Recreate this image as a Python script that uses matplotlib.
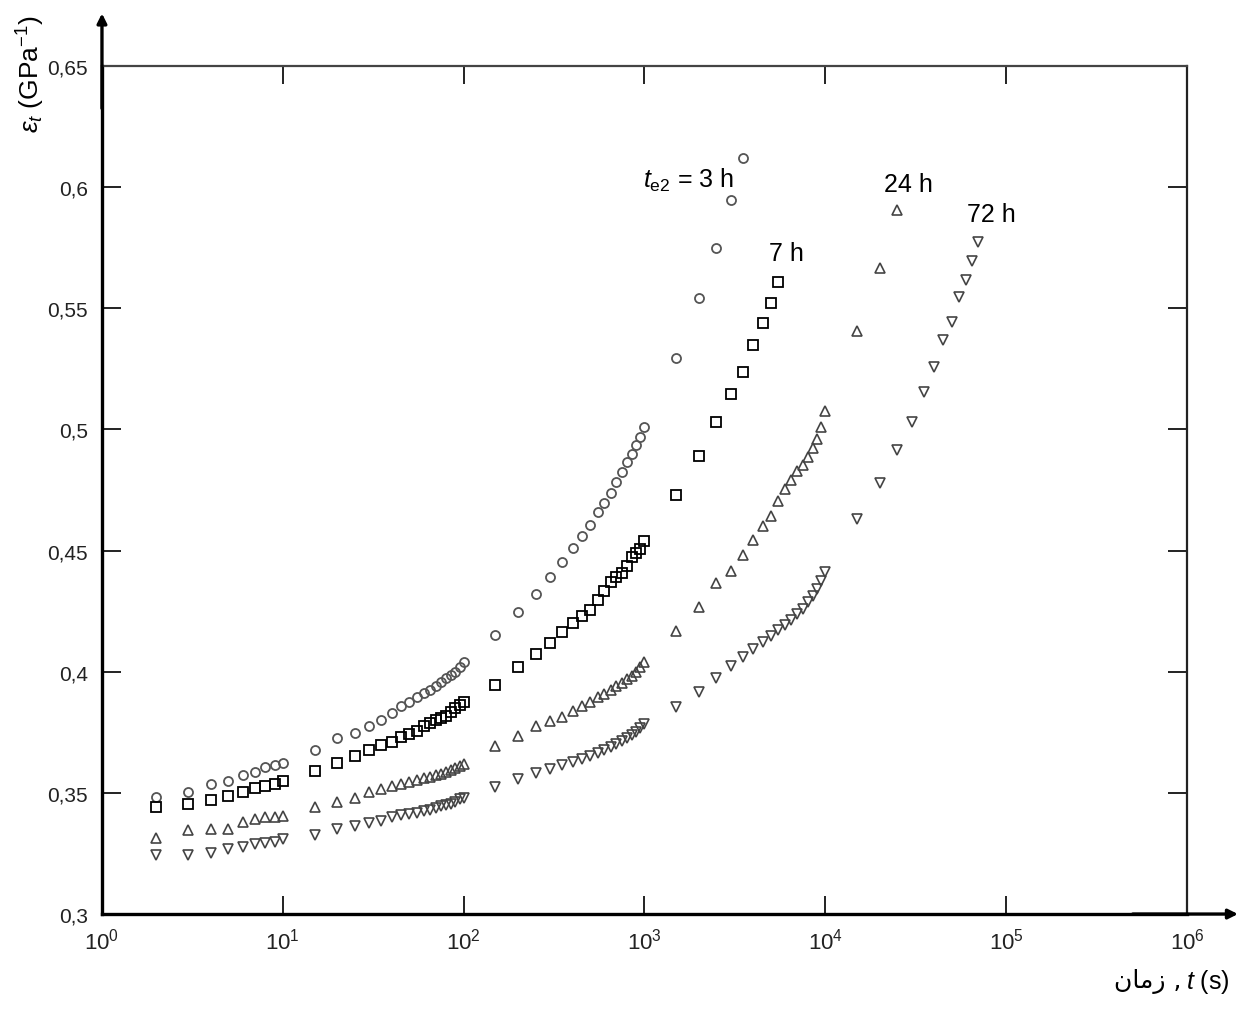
import matplotlib
matplotlib.use("Agg")
import matplotlib.pyplot as plt
from matplotlib import font_manager
from matplotlib.ticker import FixedLocator, FixedFormatter, NullLocator

# measurement times (s), shared start of every series
time_base = [2, 3, 4, 5, 6, 7, 8, 9, 10,
             15, 20, 25, 30, 35, 40, 45, 50, 55, 60, 65, 70, 75, 80, 85, 90, 95, 100,
             150, 200, 250, 300, 350, 400, 450, 500, 550, 600, 650, 700, 750, 800,
             850, 900, 950, 1000]
time_3h = time_base + [1500, 2000, 2500, 3000, 3500]
time_7h = time_base + [1500, 2000, 2500, 3000, 3500, 4000, 4500, 5000, 5500]
time_dec4 = [1500, 2000, 2500, 3000, 3500, 4000, 4500, 5000, 5500, 6000,
             6500, 7000, 7500, 8000, 8500, 9000, 9500, 10000]
time_24h = time_base + time_dec4 + [15000, 20000, 25000]
time_72h = time_base + time_dec4 + [15000, 20000, 25000, 30000, 35000, 40000,
                                    45000, 50000, 55000, 60000, 65000, 70000]

# creep compliance (GPa^-1)
eps_3h = [0.3484, 0.3505, 0.3537, 0.3550, 0.3574, 0.3587, 0.3605, 0.3615, 0.3623,
          0.3677, 0.3726, 0.3748, 0.3777, 0.3802, 0.3830, 0.3860, 0.3876, 0.3894,
          0.3912, 0.3926, 0.3942, 0.3956, 0.3973, 0.3986, 0.4000, 0.4018, 0.4039,
          0.4153, 0.4246, 0.4321, 0.4390, 0.4451, 0.4509, 0.4560, 0.4605, 0.4658,
          0.4696, 0.4738, 0.4782, 0.4823, 0.4864, 0.4898, 0.4937, 0.4970, 0.5009,
          0.5293, 0.5542, 0.5747, 0.5948, 0.6119]
eps_7h = [0.3440, 0.3454, 0.3472, 0.3488, 0.3502, 0.3519, 0.3530, 0.3537, 0.3550,
          0.3591, 0.3622, 0.3653, 0.3678, 0.3697, 0.3711, 0.3729, 0.3743, 0.3756,
          0.3776, 0.3788, 0.3799, 0.3809, 0.3819, 0.3834, 0.3850, 0.3863, 0.3875,
          0.3946, 0.4018, 0.4073, 0.4118, 0.4163, 0.4201, 0.4231, 0.4256, 0.4295,
          0.4332, 0.4369, 0.4390, 0.4406, 0.4437, 0.4472, 0.4489, 0.4506, 0.4538,
          0.4729, 0.4890, 0.5029, 0.5146, 0.5236, 0.5348, 0.5438, 0.5520, 0.5607]
eps_24h = [0.3312, 0.3348, 0.3351, 0.3351, 0.3378, 0.3392, 0.3399, 0.3399, 0.3406,
           0.3440, 0.3461, 0.3478, 0.3502, 0.3516, 0.3527, 0.3537, 0.3545, 0.3553,
           0.3561, 0.3567, 0.3574, 0.3580, 0.3586, 0.3594, 0.3603, 0.3611, 0.3619,
           0.3695, 0.3736, 0.3777, 0.3798, 0.3812, 0.3839, 0.3860, 0.3877, 0.3894,
           0.3908, 0.3924, 0.3941, 0.3955, 0.3970, 0.3984, 0.4001, 0.4019, 0.4039,
           0.4168, 0.4267, 0.4366, 0.4416, 0.4482, 0.4544, 0.4601, 0.4643, 0.4705,
           0.4754, 0.4791, 0.4829, 0.4853, 0.4886, 0.4923, 0.4961, 0.5010, 0.5077,
           0.5407, 0.5665, 0.5907]
eps_72h = [0.3243, 0.3243, 0.3252, 0.3268, 0.3275, 0.3289, 0.3293, 0.3296, 0.3310,
           0.3326, 0.3351, 0.3364, 0.3376, 0.3385, 0.3399, 0.3407, 0.3413, 0.3419,
           0.3425, 0.3431, 0.3437, 0.3444, 0.3450, 0.3456, 0.3464, 0.3473, 0.3481,
           0.3524, 0.3557, 0.3582, 0.3600, 0.3615, 0.3627, 0.3640, 0.3652, 0.3664,
           0.3677, 0.3689, 0.3702, 0.3714, 0.3726, 0.3739, 0.3753, 0.3768, 0.3784,
           0.3853, 0.3915, 0.3974, 0.4024, 0.4061, 0.4094, 0.4123, 0.4147, 0.4172,
           0.4193, 0.4213, 0.4238, 0.4259, 0.4286, 0.4312, 0.4341, 0.4374, 0.4411,
           0.4630, 0.4779, 0.4916, 0.5032, 0.5156, 0.5256, 0.5369, 0.5442, 0.5545,
           0.5618, 0.5694, 0.5775]

y_ticks = [0.3, 0.35, 0.4, 0.45, 0.5, 0.55, 0.6, 0.65]
y_tick_labels = ["0,3", "0,35", "0,4", "0,45", "0,5", "0,55", "0,6", "0,65"]
x_ticks = [1e0, 1e1, 1e2, 1e3, 1e4, 1e5, 1e6]
x_tick_labels = [r"$\mathdefault{10^{%d}}$" % k for k in range(7)]

names = {f.name for f in font_manager.fontManager.ttflist}
tick_font = "Liberation Sans Narrow" if "Liberation Sans Narrow" in names else "Liberation Sans"

plt.rcParams["font.family"] = "Liberation Sans"
plt.rcParams["mathtext.fontset"] = "custom"
plt.rcParams["mathtext.rm"] = "Liberation Sans"
plt.rcParams["mathtext.it"] = "Liberation Sans:italic"

fig = plt.figure(figsize=(12.45, 10.12), dpi=100)
ax = fig.add_axes([0.0819, 0.0958, 0.8715, 0.8380])

ax.plot(time_3h, eps_3h, "o", ms=6.5, mfc="none", mec="#555555", mew=1.3, clip_on=False)
ax.plot(time_7h, eps_7h, "s", ms=7.5, mfc="none", mec="black", mew=1.3, clip_on=False)
ax.plot(time_24h, eps_24h, "^", ms=7.5, mfc="none", mec="#444444", mew=1.2, clip_on=False)
ax.plot(time_72h, eps_72h, "v", ms=7.5, mfc="none", mec="#444444", mew=1.2, clip_on=False)

ax.set_xscale("log")
ax.set_xlim(1, 1e6)
ax.set_ylim(0.3, 0.65)
ax.xaxis.set_major_locator(FixedLocator(x_ticks))
ax.xaxis.set_major_formatter(FixedFormatter(x_tick_labels))
ax.xaxis.set_minor_locator(NullLocator())
ax.yaxis.set_major_locator(FixedLocator(y_ticks))
ax.yaxis.set_major_formatter(FixedFormatter(y_tick_labels))

ax.tick_params(axis="y", direction="in", length=14, width=1.4, labelsize=15,
               pad=10, right=True, colors="#222222")
ax.tick_params(axis="x", direction="in", length=13, width=1.4, labelsize=16,
               pad=10, top=True, colors="#222222")
for lab in ax.get_xticklabels() + ax.get_yticklabels():
    lab.set_fontfamily(tick_font)

ax.spines["left"].set_linewidth(2.4)
ax.spines["left"].set_color("black")
ax.spines["bottom"].set_linewidth(2.4)
ax.spines["bottom"].set_color("black")
ax.spines["top"].set_linewidth(1.6)
ax.spines["top"].set_color("#444444")
ax.spines["right"].set_linewidth(1.6)
ax.spines["right"].set_color("#222222")

# arrow heads on the left and bottom axes
ax.annotate("", xy=(0, 1.062), xytext=(0, 0.95), xycoords="axes fraction",
            arrowprops=dict(arrowstyle="-|>", lw=2.4, color="black",
                            mutation_scale=14, shrinkA=0, shrinkB=0))
ax.annotate("", xy=(1.047, 0), xytext=(0.95, 0), xycoords="axes fraction",
            arrowprops=dict(arrowstyle="-|>", lw=2.4, color="black",
                            mutation_scale=14, shrinkA=0, shrinkB=0))

# curve labels
ax.text(0.4986, 0.857, r"$t_{\mathrm{e2}}$ = 3 h", transform=ax.transAxes,
        fontsize=18, va="baseline", ha="left")
ax.text(0.6147, 0.771, "7 h", transform=ax.transAxes, fontsize=18, va="baseline")
ax.text(0.7207, 0.8526, "24 h", transform=ax.transAxes, fontsize=18, va="baseline")
ax.text(0.7972, 0.8172, "72 h", transform=ax.transAxes, fontsize=18, va="baseline")

# axis titles
fig.text(0.025, 1 - 15 / 1012, r"$\varepsilon_t$ (GPa$^{-1}$)", rotation=90,
         ha="center", va="top", fontsize=19)
fig.text(1182 / 1245, 1 - 982 / 1012, "\ufee5\ufe8e\ufee3\ufeaf ,", family="DejaVu Sans",
         ha="right", va="center", fontsize=18)
fig.text(1186 / 1245, 1 - 982 / 1012, r"$t$ (s)", ha="left", va="center", fontsize=18)

fig.savefig("out.png", dpi=100)
